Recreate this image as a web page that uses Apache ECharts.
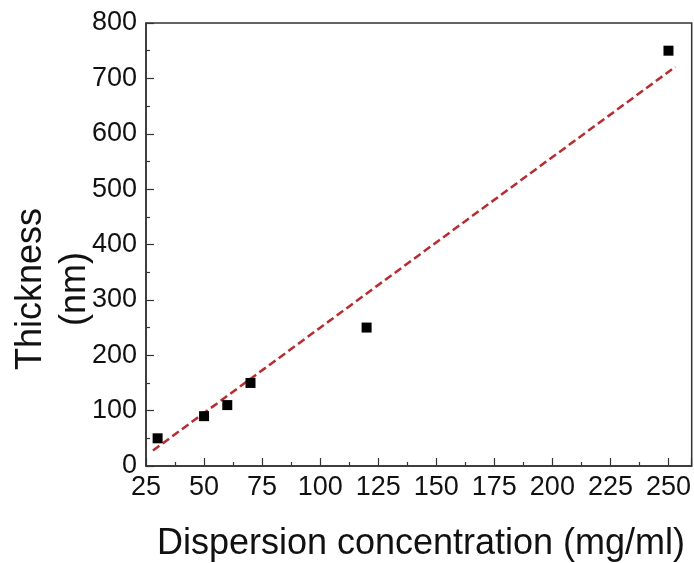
<!DOCTYPE html>
<html>
<head>
<meta charset="utf-8">
<script src="https://cdn.jsdelivr.net/npm/echarts@6/dist/echarts.min.js"></script>
<style>html,body{margin:0;padding:0;background:#fff}#c{width:694px;height:563px}</style>
</head>
<body>
<div id="c"></div>
<script>
const concentration = [30, 50, 60, 70, 120, 250];
const thickness = [50, 90, 110, 150, 250, 750];
const fitX = [28, 253];
const fitY = [28, 721];
const xTitle = 'Dispersion concentration (mg/ml)';
const yTitle = 'Thickness\n(nm)';

const font = '"Liberation Sans", Arial, sans-serif';
const chart = echarts.init(document.getElementById('c'));
const axisCommon = {
  axisLine: {show: true, onZero: false, lineStyle: {color: '#333', width: 1.5}},
  axisTick: {show: true, inside: true, length: 8, lineStyle: {color: '#333', width: 1.2}},
  minorTick: {show: true, splitNumber: 2, length: 4, lineStyle: {color: '#333', width: 1.2}},
  splitLine: {show: false},
  axisLabel: {fontFamily: font, fontSize: 27, color: '#111'}
};
chart.setOption({
  animation: false,
  grid: {left: 146, right: 2, top: 23, bottom: 97, show: true, borderColor: '#333', borderWidth: 1.5},
  xAxis: Object.assign({}, axisCommon, {
    type: 'value', min: 25, max: 260, interval: 25,
    axisLabel: Object.assign({}, axisCommon.axisLabel, {margin: 8, showMaxLabel: false,
      formatter: v => (v > 255 ? '' : String(v))})
  }),
  yAxis: Object.assign({}, axisCommon, {
    type: 'value', min: 0, max: 800, interval: 100,
    axisLabel: Object.assign({}, axisCommon.axisLabel, {margin: 9})
  }),
  graphic: [
    {type: 'text', x: 421, y: 544,
      style: {text: xTitle, font: '36px ' + font, fill: '#111', align: 'center', verticalAlign: 'middle'}},
    {type: 'text', x: 53, y: 289, rotation: Math.PI / 2,
      style: {text: yTitle, font: '36px ' + font, fill: '#111', align: 'center', verticalAlign: 'middle', lineHeight: 44}}
  ],
  series: [
    {type: 'line', data: fitX.map((x, i) => [x, fitY[i]]), symbol: 'none',
      lineStyle: {color: '#C0282D', width: 2.5, type: [8, 4]}, z: 2},
    {type: 'scatter', data: concentration.map((x, i) => [x, thickness[i]]),
      symbol: 'rect', symbolSize: 10, itemStyle: {color: '#000', opacity: 1}, z: 3}
  ]
});
</script>
</body>
</html>
